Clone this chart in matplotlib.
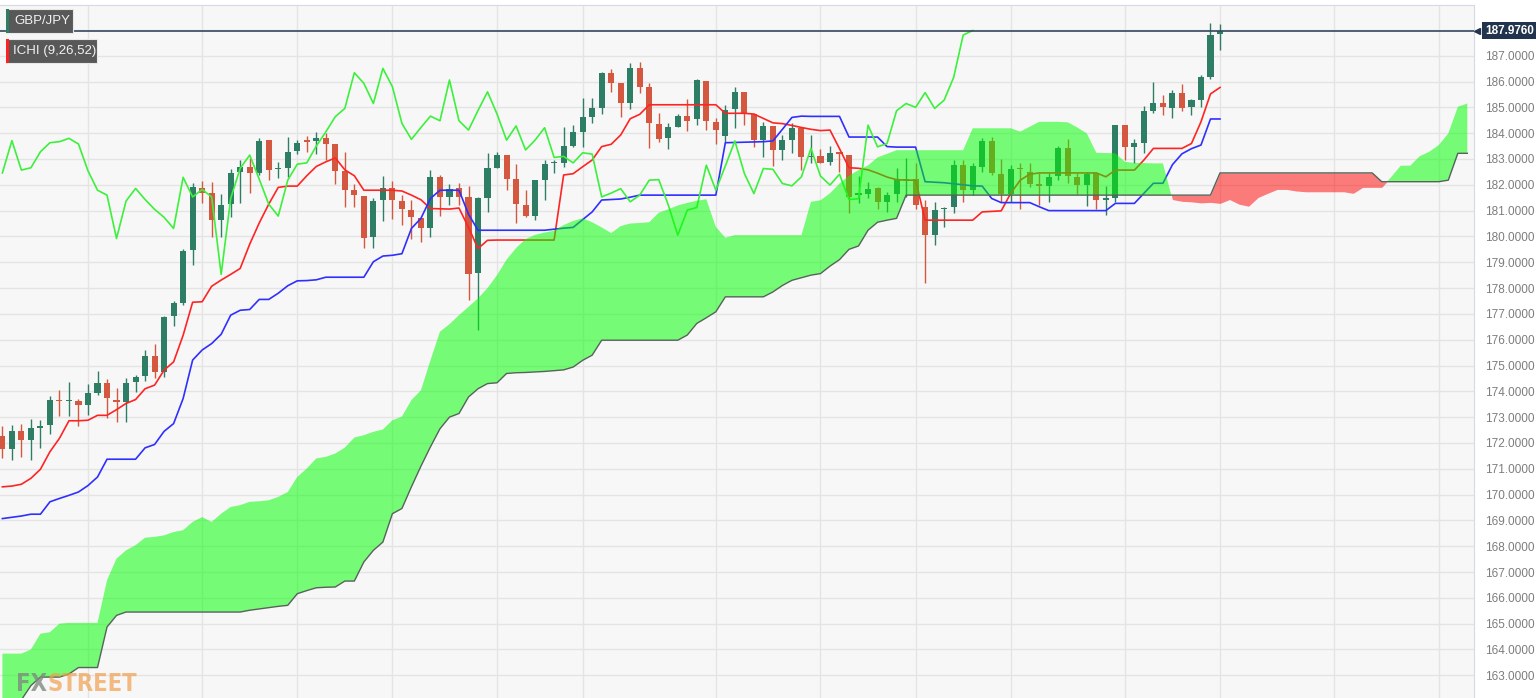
import numpy as np
import matplotlib
matplotlib.use("Agg")
import matplotlib.pyplot as plt
from matplotlib.patches import Rectangle
from matplotlib import font_manager

# Velas diarias GBP/JPY (indice 0 = primera vela visible)
opens = np.array([
    172.26, 171.78, 172.47, 172.13, 172.56, 172.68, 173.68, 173.62, 173.62, 173.46,
    173.94, 174.34, 173.65, 173.59, 174.36, 174.60, 175.37, 174.75, 176.92, 177.44,
    179.47, 181.86, 181.67, 180.63, 181.25, 182.48, 182.70, 182.44, 183.73, 182.62,
    182.67, 183.32, 183.73, 183.71, 183.80, 183.57, 182.53, 181.79, 181.57, 179.96,
    181.41, 181.86, 181.38, 181.02, 180.70, 180.31, 182.29, 181.51, 181.86, 181.53,
    178.57, 181.47, 182.67, 183.15, 182.22, 181.21, 180.79, 182.18, 182.83, 182.83,
    183.50, 184.05, 184.64, 184.96, 186.34, 185.93, 185.15, 186.51, 185.78, 184.35,
    183.80, 184.25, 184.66, 184.53, 186.03, 184.44, 183.90, 184.92, 185.60, 184.74,
    183.73, 184.28, 183.35, 183.73, 184.19, 183.06, 183.10, 182.89, 183.28, 183.15,
    181.62, 181.65, 181.86, 181.34, 181.66, 182.18, 182.22, 181.15, 180.05, 181.05,
    181.15, 182.76, 181.79, 182.70, 183.70, 182.41, 181.66, 182.61, 182.50, 182.05,
    181.96, 182.34, 183.41, 182.31, 181.99, 182.47, 181.43, 181.47, 184.31, 183.47,
    183.60, 184.87, 185.15, 184.96, 185.57, 185.00, 185.28, 186.19, 187.84])
highs = np.array([
    172.64, 172.68, 172.72, 172.91, 172.88, 173.81, 174.07, 174.36, 173.72, 174.30,
    174.79, 174.46, 174.11, 174.53, 174.62, 175.59, 175.82, 176.90, 177.50, 179.50,
    182.08, 182.16, 182.12, 181.64, 182.60, 182.96, 183.05, 183.80, 183.73, 182.90,
    183.86, 183.73, 183.89, 184.05, 183.99, 183.57, 183.28, 182.05, 181.57, 181.50,
    182.33, 182.16, 181.60, 181.41, 180.76, 182.57, 182.38, 182.05, 182.07, 181.95,
    181.53, 183.22, 183.28, 183.15, 182.80, 181.79, 182.18, 182.98, 182.98, 184.25,
    184.30, 185.35, 185.35, 186.38, 186.47, 185.93, 186.70, 186.77, 185.95, 184.77,
    184.38, 184.75, 185.31, 186.09, 186.03, 184.57, 185.09, 185.80, 185.60, 184.77,
    184.45, 184.28, 183.93, 184.38, 184.25, 183.93, 183.37, 183.50, 183.28, 183.15,
    182.34, 182.10, 181.92, 181.73, 182.67, 183.03, 182.83, 181.40, 181.34, 181.15,
    182.98, 182.96, 182.83, 183.80, 183.86, 182.99, 182.77, 182.83, 182.83, 182.44,
    182.44, 183.50, 183.76, 182.44, 182.50, 182.50, 181.95, 184.33, 184.31, 183.76,
    185.05, 185.99, 185.48, 185.67, 185.90, 185.31, 186.25, 188.26, 188.23])
lows = np.array([
    171.40, 171.33, 171.45, 171.33, 171.82, 172.34, 173.04, 173.06, 172.65, 173.07,
    173.85, 172.98, 172.82, 172.80, 173.98, 174.40, 174.50, 174.56, 176.52, 177.34,
    178.89, 181.28, 179.98, 179.98, 180.76, 181.30, 181.70, 182.38, 182.18, 182.25,
    182.29, 183.19, 183.28, 183.19, 182.96, 182.05, 181.15, 181.15, 179.57, 179.57,
    180.60, 180.66, 180.43, 179.90, 179.78, 179.98, 180.79, 181.21, 181.20, 177.53,
    176.37, 180.96, 182.64, 181.79, 180.53, 180.76, 180.63, 181.43, 182.44, 182.70,
    183.45, 183.47, 184.40, 184.74, 185.60, 184.64, 184.92, 185.54, 183.41, 183.67,
    183.37, 184.23, 184.09, 184.30, 184.12, 183.57, 183.67, 184.20, 184.32, 183.47,
    183.08, 182.73, 182.96, 183.24, 182.57, 182.83, 182.83, 182.76, 182.50, 180.90,
    181.30, 181.47, 181.08, 180.95, 181.34, 181.53, 181.08, 178.18, 179.66, 180.37,
    180.90, 181.34, 181.60, 182.50, 182.38, 181.34, 181.34, 181.08, 181.92, 181.21,
    181.34, 182.18, 182.08, 181.66, 181.17, 181.08, 180.83, 181.34, 182.98, 182.83,
    183.24, 184.77, 184.70, 184.57, 184.87, 184.70, 185.00, 186.09, 187.22])
closes = np.array([
    171.78, 172.47, 172.13, 172.56, 172.66, 173.65, 173.63, 173.66, 173.46, 173.92,
    174.34, 173.74, 173.59, 174.34, 174.56, 175.37, 174.73, 176.88, 177.43, 179.44,
    181.90, 181.67, 180.63, 181.21, 182.44, 182.70, 182.46, 183.71, 182.57, 182.66,
    183.28, 183.63, 183.67, 183.80, 183.58, 182.54, 181.79, 181.60, 179.92, 181.37,
    181.86, 181.43, 181.05, 180.74, 180.31, 182.29, 181.53, 181.82, 181.53, 178.53,
    181.47, 182.64, 183.15, 182.22, 181.25, 180.79, 182.18, 182.80, 182.85, 183.50,
    184.05, 184.64, 184.96, 186.34, 185.93, 185.15, 186.51, 185.80, 184.38, 183.76,
    184.22, 184.66, 184.48, 186.06, 184.48, 184.12, 184.88, 185.60, 184.74, 183.73,
    184.28, 183.35, 183.73, 184.21, 183.06, 183.10, 182.85, 183.24, 183.19, 181.53,
    181.68, 181.85, 181.34, 181.60, 182.18, 182.20, 181.22, 180.05, 181.02, 181.12,
    182.76, 181.79, 182.73, 183.70, 182.44, 181.66, 182.63, 182.60, 182.05, 181.96,
    182.31, 183.41, 182.34, 181.99, 182.41, 181.43, 181.46, 184.31, 183.47, 183.60,
    184.87, 185.15, 185.00, 185.57, 184.96, 185.28, 186.16, 187.80, 187.976])

# Ichimoku (9, 26, 52)
tenkan = np.array([
    170.30, 170.33, 170.40, 170.63, 170.98, 171.66, 172.18, 172.86, 172.86, 172.88,
    173.07, 173.07, 173.29, 173.53, 173.68, 174.10, 174.24, 174.82, 175.14, 176.17,
    177.45, 177.47, 178.07, 178.31, 178.53, 178.76, 179.70, 180.52, 181.25, 181.90,
    181.95, 181.95, 182.35, 182.71, 182.89, 183.04, 182.58, 182.35, 181.79, 181.79,
    181.79, 181.79, 181.76, 181.60, 181.42, 181.08, 181.07, 181.06, 181.10, 180.35,
    179.53, 179.85, 179.86, 179.86, 179.86, 179.86, 179.86, 179.86, 179.86, 182.38,
    182.43, 182.70, 182.96, 183.48, 183.57, 183.93, 184.56, 184.73, 185.10, 185.10,
    185.10, 185.10, 185.10, 185.10, 185.10, 185.10, 184.77, 184.77, 184.77, 184.74,
    184.57, 184.40, 184.37, 184.30, 184.22, 184.15, 184.10, 184.12, 183.40, 182.66,
    182.64, 182.58, 182.45, 182.30, 182.20, 182.18, 182.18, 180.63, 180.63, 180.63,
    180.63, 180.63, 180.63, 180.95, 180.97, 180.99, 181.67, 182.18, 182.41, 182.46,
    182.46, 182.46, 182.46, 182.46, 182.46, 182.46, 182.31, 182.57, 182.57, 182.57,
    182.96, 183.41, 183.41, 183.41, 183.41, 183.60, 184.44, 185.52, 185.77])
kijun = np.array([
    169.07, 169.12, 169.17, 169.24, 169.24, 169.72, 169.85, 169.97, 170.10, 170.35,
    170.68, 171.37, 171.37, 171.37, 171.37, 171.81, 171.94, 172.45, 172.75, 173.72,
    175.21, 175.60, 175.85, 176.21, 176.95, 177.14, 177.17, 177.56, 177.56, 177.80,
    178.09, 178.28, 178.29, 178.32, 178.42, 178.42, 178.42, 178.42, 178.42, 179.02,
    179.24, 179.27, 179.33, 180.31, 180.70, 181.47, 181.79, 181.79, 181.79, 180.86,
    180.24, 180.24, 180.24, 180.24, 180.24, 180.24, 180.24, 180.24, 180.28, 180.32,
    180.35, 180.65, 180.95, 181.41, 181.43, 181.45, 181.52, 181.60, 181.60, 181.60,
    181.60, 181.60, 181.60, 181.60, 181.60, 181.60, 183.63, 183.64, 183.65, 183.66,
    183.67, 183.70, 184.15, 184.61, 184.66, 184.65, 184.65, 184.65, 184.65, 183.85,
    183.85, 183.85, 183.85, 183.48, 183.46, 183.46, 183.46, 182.12, 182.10, 182.08,
    182.04, 182.00, 181.96, 181.95, 181.47, 181.31, 181.31, 181.31, 181.31, 181.15,
    181.00, 181.00, 181.00, 181.00, 181.00, 181.00, 181.00, 181.28, 181.28, 181.28,
    181.67, 182.06, 182.06, 182.78, 183.20, 183.40, 183.54, 184.55, 184.55])
# nube adelantada 26 velas
senkou_a = np.array([
    163.84, 163.84, 163.84, 164.00, 164.61, 164.67, 165.00, 165.03, 165.03, 165.03,
    165.03, 166.68, 167.52, 167.84, 168.04, 168.33, 168.36, 168.42, 168.55, 168.62,
    168.94, 169.13, 168.94, 169.26, 169.52, 169.59, 169.72, 169.74, 169.78, 169.91,
    170.10, 170.68, 171.01, 171.40, 171.46, 171.59, 171.82, 172.21, 172.30, 172.43,
    172.52, 172.88, 173.02, 173.66, 174.04, 175.20, 176.31, 176.60, 176.95, 177.27,
    177.60, 178.00, 178.50, 179.10, 179.55, 179.90, 180.06, 180.15, 180.22, 180.44,
    180.60, 180.70, 180.55, 180.35, 180.13, 180.40, 180.50, 180.52, 180.55, 180.92,
    181.05, 181.20, 181.30, 181.38, 181.44, 180.37, 179.95, 180.05, 180.05, 180.05,
    180.05, 180.05, 180.05, 180.05, 180.05, 181.34, 181.40, 181.67, 182.05, 182.35,
    182.57, 182.75, 183.06, 183.20, 183.34, 183.34, 183.34, 183.34, 183.34, 183.34,
    183.34, 183.34, 184.19, 184.19, 184.19, 184.19, 184.19, 184.06, 184.25, 184.44,
    184.44, 184.44, 184.42, 184.22, 183.99, 183.24, 183.23, 183.22, 182.89, 182.85,
    182.84, 182.83, 182.83, 181.43, 181.36, 181.34, 181.30, 181.32, 181.28, 181.43,
    181.25, 181.17, 181.51, 181.67, 181.82, 181.82, 181.76, 181.73, 181.73, 181.73,
    181.73, 181.73, 181.67, 181.90, 181.90, 181.90, 182.30, 182.74, 182.74, 183.11,
    183.28, 183.54, 183.99, 185.02, 185.15])
senkou_b = np.array([
    161.80, 161.90, 162.05, 162.60, 162.93, 162.93, 162.93, 163.05, 163.30, 163.30,
    163.30, 164.87, 165.32, 165.45, 165.45, 165.45, 165.45, 165.45, 165.45, 165.45,
    165.45, 165.45, 165.45, 165.45, 165.45, 165.45, 165.52, 165.57, 165.62, 165.67,
    165.71, 166.16, 166.28, 166.39, 166.41, 166.42, 166.65, 166.65, 167.39, 167.84,
    168.16, 169.26, 169.46, 170.30, 171.10, 171.85, 172.55, 173.00, 173.14, 173.78,
    174.10, 174.30, 174.33, 174.69, 174.72, 174.73, 174.75, 174.77, 174.80, 174.83,
    174.94, 175.20, 175.40, 175.98, 175.98, 175.98, 175.98, 175.98, 175.98, 175.98,
    175.98, 175.98, 176.18, 176.63, 176.85, 177.08, 177.66, 177.66, 177.66, 177.66,
    177.66, 177.85, 178.10, 178.30, 178.40, 178.50, 178.56, 178.85, 179.10, 179.50,
    179.63, 180.24, 180.55, 180.63, 180.70, 181.60, 181.60, 181.60, 181.60, 181.60,
    181.60, 181.60, 181.60, 181.60, 181.60, 181.60, 181.60, 181.60, 181.60, 181.60,
    181.60, 181.60, 181.60, 181.60, 181.60, 181.60, 181.60, 181.60, 181.60, 181.60,
    181.60, 181.60, 181.60, 181.60, 181.60, 181.60, 181.60, 181.60, 182.46, 182.46,
    182.46, 182.46, 182.46, 182.46, 182.46, 182.46, 182.46, 182.46, 182.46, 182.46,
    182.46, 182.46, 182.46, 182.46, 182.46, 182.12, 182.12, 182.12, 182.12, 182.12,
    182.12, 182.12, 182.18, 183.22, 183.22])
# chikou: cierre desplazado 26 velas hacia atras
chikou = closes[26:]

last_price = 187.976
price_ticks = np.arange(163, 188)
grid_prices = np.arange(162, 189)
grid_idx = [9, 21, 31, 41, 52, 61, 75, 86, 96, 106, 118, 128, 140, 151]

GREEN = "#2e7d65"
RED = "#d4573f"
NAVY = "#22344d"

plt.rcParams["font.family"] = ["Liberation Sans", "DejaVu Sans"]

fig = plt.figure(figsize=(15.36, 6.98), dpi=100)
fig.patch.set_facecolor("white")
ax = fig.add_axes([0, 0, 1474 / 1536, 693 / 698])
ax.set_facecolor("#f7f7f7")

for p in grid_prices:
    ax.axhline(p, color="#e4e4e4", lw=1, zorder=0)
for g in grid_idx:
    ax.axvline(g, color="#e4e4e4", lw=1, zorder=0)

# velas
x = np.arange(len(closes))
cols = np.where(closes >= opens, GREEN, RED)
ax.vlines(x, lows, highs, colors=cols, lw=1, zorder=2)
body_low = np.minimum(opens, closes)
body_h = np.maximum(np.abs(closes - opens), 0.05)
ax.bar(x, body_h, bottom=body_low, width=0.64, color=cols, lw=0, zorder=2)

# lineas ichimoku
ax.plot(x, tenkan, color="#ff2424", lw=1.2, zorder=3)
ax.plot(x, kijun, color="#2f2fff", lw=1.2, zorder=3)
ax.plot(np.arange(len(chikou)), chikou, color="#3cf03c", lw=1.2, zorder=3)

# nube
xc = np.arange(len(senkou_a))
ax.fill_between(xc, senkou_a, senkou_b, where=senkou_a >= senkou_b, interpolate=True,
                color="#00ff00", alpha=0.52, lw=0, zorder=4)
ax.fill_between(xc, senkou_a, senkou_b, where=senkou_a < senkou_b, interpolate=True,
                color="#ff0000", alpha=0.5, lw=0, zorder=4)
ax.plot(xc, senkou_b, color="#56635a", lw=1, zorder=5)

# precio actual
ax.axhline(last_price, color="#34495e", lw=1.2, zorder=6)
ax.plot([1.0022], [last_price], marker="<", ms=5, color=NAVY, mec=NAVY,
        transform=ax.get_yaxis_transform(), clip_on=False, zorder=10)
ax.text(1.0075, last_price, f"{last_price:.4f}", transform=ax.get_yaxis_transform(),
        ha="left", va="center", color="white", fontsize=8.5, fontweight="bold",
        bbox=dict(boxstyle="square,pad=0.22", fc=NAVY, ec="none"),
        clip_on=False, zorder=10)

ax.set_xlim(-0.25, 154.7)
ax.set_ylim(162.12, 188.965)
ax.set_xticks([])
ax.yaxis.tick_right()
ax.set_yticks(price_ticks)
ax.set_yticklabels([f"{p:.4f}" for p in price_ticks])
ax.tick_params(axis="y", length=0, pad=8, labelsize=8.5, labelcolor="#7d7d7d")
for s in ["left", "bottom"]:
    ax.spines[s].set_visible(False)
for s in ["right", "top"]:
    ax.spines[s].set_color("#d3d9e6")

# etiquetas de la esquina
W, H = 1536, 698
def tag(x0, y0, w, h, label, stripe):
    fig.add_artist(Rectangle((x0 / W, 1 - (y0 + h) / H), w / W, h / H, transform=fig.transFigure,
                             fc="#585858", ec="#e8e8e8", lw=0.8, zorder=20))
    fig.add_artist(Rectangle((x0 / W, 1 - (y0 + h) / H), 3 / W, h / H, transform=fig.transFigure,
                             fc=stripe, ec="none", zorder=21))
    fig.text((x0 + 3 + w / 2) / W, 1 - (y0 + h / 2) / H, label, ha="center", va="center",
             color="#f2f2f2", fontsize=9.5, zorder=22)

tag(6, 9, 67, 24, "GBP/JPY", GREEN)
tag(6, 39, 91, 24, "ICHI (9,26,52)", "#ff2020")

# marca de agua
condensed = [f for f in font_manager.fontManager.ttflist
             if f.name in ("DejaVu Sans", "Liberation Sans Narrow") and f.stretch == "condensed"]
if any(f.name == "Liberation Sans Narrow" for f in font_manager.fontManager.ttflist):
    wm = dict(family="Liberation Sans Narrow", fontsize=19)
elif condensed:
    wm = dict(family="DejaVu Sans", fontstretch="condensed", fontsize=17)
else:
    wm = dict(family="Liberation Sans", fontsize=16)
fx = fig.text(16 / W, 0.003, "FX", color="#7f8a80", alpha=0.8, fontweight="bold",
              ha="left", va="bottom", zorder=22, **wm)
fig.canvas.draw()
bb = fx.get_window_extent(fig.canvas.get_renderer())
fig.text(bb.x1 / W + 0.0005, 0.003, "STREET", color="#f0a04e", alpha=0.7, fontweight="bold",
         ha="left", va="bottom", zorder=22, **wm)

fig.savefig("out.png", dpi=100)
